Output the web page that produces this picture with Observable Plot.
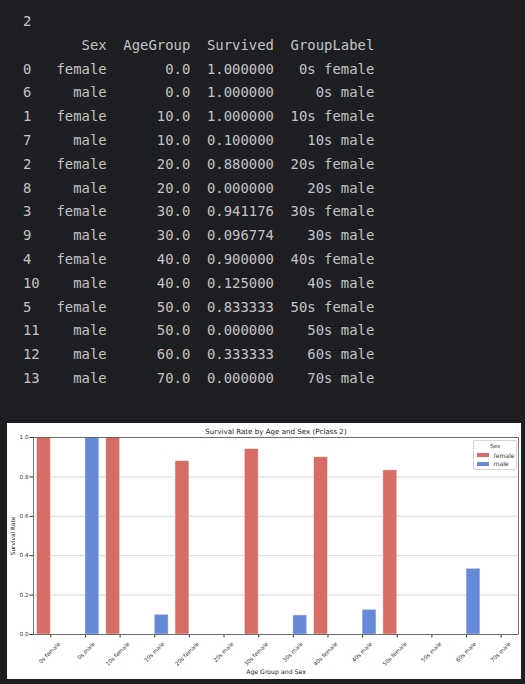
<!DOCTYPE html>
<html>
<head>
<meta charset="utf-8">
<script src="https://cdn.jsdelivr.net/npm/d3@7"></script>
<script src="https://cdn.jsdelivr.net/npm/@observablehq/plot@0.6"></script>
<style>
  html, body { margin: 0; padding: 0; background: #1e1f22; width: 525px; height: 684px; overflow: hidden; }
  #df { position: absolute; left: 23px; top: 10px; margin: 0; font-family: "DejaVu Sans Mono", monospace; font-size: 13.9px; line-height: 23.8px; color: #c4c4c4; white-space: pre; }
  #chart { position: absolute; left: 7px; top: 423px; width: 514px; height: 256px; background: #fff; }
  #chart svg { display: block; }
  #legend { position: absolute; left: 466.3px; top: 17px; width: 44px; height: 30px; border: 0.8px solid #d6d6d6; border-radius: 2px; background: rgba(255,255,255,0.85); font-family: "DejaVu Sans", sans-serif; font-size: 6.1px; color: #333; box-sizing: border-box; }
  #legend .t { position: absolute; left: 0; width: 100%; top: 1.5px; text-align: center; font-size: 5.6px; }
  #legend .row { position: absolute; left: 2.5px; height: 6px; display: flex; align-items: center; }
  #legend .sw { width: 12.5px; height: 4px; margin-right: 4.2px; }
</style>
</head>
<body>
<pre id="df"></pre>
<div id="chart"><div id="legend"></div></div>
<script>
// ---- data ----
const pclass = 2;
const rowIndex = [0, 6, 1, 7, 2, 8, 3, 9, 4, 10, 5, 11, 12, 13];
const sexes = ["female", "male", "female", "male", "female", "male", "female", "male", "female", "male", "female", "male", "male", "male"];
const ageGroups = [0, 0, 10, 10, 20, 20, 30, 30, 40, 40, 50, 50, 60, 70];
const survived = [1.0, 1.0, 1.0, 0.1, 0.88, 0.0, 0.941176, 0.096774, 0.9, 0.125, 0.833333, 0.0, 0.333333, 0.0];
const groupLabels = ["0s female", "0s male", "10s female", "10s male", "20s female", "20s male", "30s female", "30s male", "40s female", "40s male", "50s female", "50s male", "60s male", "70s male"];
const sexDomain = ["female", "male"];
const sexColors = ["#d86c67", "#6689d8"];
const yTicks = [0, 0.2, 0.4, 0.6, 0.8, 1.0];
const columns = ["Sex", "AgeGroup", "Survived", "GroupLabel"];
const titleText = `Survival Rate by Age and Sex (Pclass ${pclass})`;
const xLabel = "Age Group and Sex";
const yLabel = "Survival Rate";

// ---- dataframe printout ----
const cells = rowIndex.map((r, i) => [String(r), sexes[i], ageGroups[i].toFixed(1), survived[i].toFixed(6), groupLabels[i]]);
const idxW = Math.max(...cells.map(c => c[0].length));
const colW = columns.map((c, j) => Math.max(c.length, ...cells.map(row => row[j + 1].length)));
const lines = [String(pclass)];
lines.push("".padEnd(idxW) + columns.map((c, j) => "  " + c.padStart(colW[j])).join(""));
for (const row of cells) {
  lines.push(row[0].padEnd(idxW) + row.slice(1).map((v, j) => "  " + v.padStart(colW[j])).join(""));
}
document.getElementById("df").textContent = lines.join("\n");

// ---- chart ----
const rows = groupLabels.map((g, i) => ({GroupLabel: g, Sex: sexes[i], Survived: survived[i], pos: groupLabels.indexOf(g)}));
const dodge = 0.4;

const plot = Plot.plot({
  width: 514,
  height: 256,
  marginLeft: 26,
  marginRight: 3,
  marginTop: 14,
  marginBottom: 45,
  style: {fontFamily: "DejaVu Sans, sans-serif", fontSize: "5.6px", color: "#333", background: "transparent"},
  x: {domain: [-0.5, groupLabels.length - 0.5], ticks: d3.range(groupLabels.length), tickFormat: () => "", tickSize: 3.5, label: null},
  y: {domain: [0, 1], ticks: yTicks, tickFormat: d3.format(".1f"), tickSize: 3.5, tickPadding: 1.5, label: null},
  color: {domain: sexDomain, range: sexColors},
  marks: [
    Plot.ruleY(yTicks, {stroke: "#cccccc", strokeWidth: 0.8}),
    Plot.rectY(rows, {
      x1: d => d.pos - (d.Sex === "female" ? dodge : 0),
      x2: d => d.pos + (d.Sex === "female" ? 0 : dodge),
      y1: 0,
      y2: "Survived",
      fill: "Sex",
      stroke: "white",
      strokeOpacity: 0.5,
      strokeWidth: 0.8
    }),
    Plot.frame({stroke: "#555", strokeWidth: 0.8}),
    Plot.text(groupLabels, {x: (d, i) => i, text: d => d, frameAnchor: "bottom", rotate: -45, textAnchor: "end", lineAnchor: "top", dx: 7, dy: 7, fontSize: 5.6, fill: "#333"}),
    Plot.text([titleText], {frameAnchor: "top", lineAnchor: "middle", dy: -5.5, fontSize: 7.1, fill: "#222"}),
    Plot.text([xLabel], {frameAnchor: "bottom", lineAnchor: "middle", dy: 37.5, fontSize: 6.2, fill: "#222"}),
    Plot.text([yLabel], {frameAnchor: "left", rotate: -90, textAnchor: "middle", lineAnchor: "middle", dx: -20.5, fontSize: 5.8, fill: "#222"})
  ]
});
const chart = document.getElementById("chart");
chart.insertBefore(plot, chart.firstChild);

// ---- legend ----
const legend = document.getElementById("legend");
const t = document.createElement("div");
t.className = "t";
t.textContent = "Sex";
legend.appendChild(t);
sexDomain.forEach((s, i) => {
  const row = document.createElement("div");
  row.className = "row";
  row.style.top = (11 + i * 8.8) + "px";
  const sw = document.createElement("div");
  sw.className = "sw";
  sw.style.background = sexColors[i];
  const lab = document.createElement("span");
  lab.textContent = s;
  row.appendChild(sw);
  row.appendChild(lab);
  legend.appendChild(row);
});
</script>
</body>
</html>
